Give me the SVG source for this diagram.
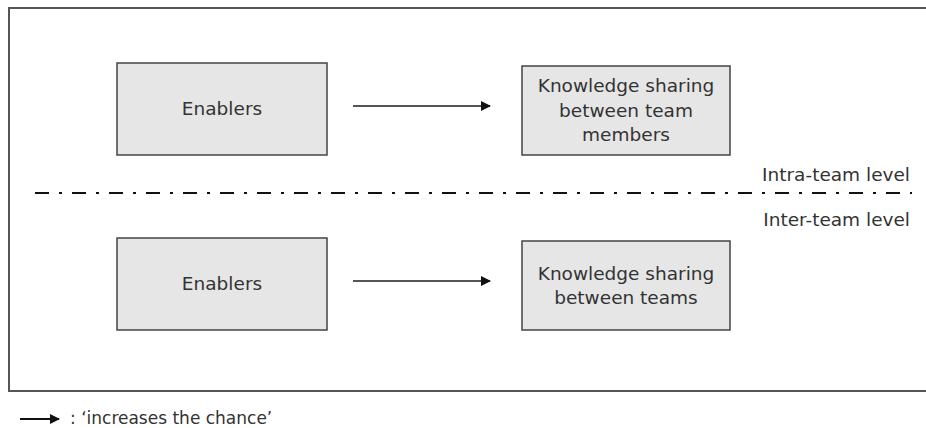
<svg xmlns="http://www.w3.org/2000/svg" width="926" height="428" viewBox="0 0 926 428">
  <defs>
    <marker id="head" viewBox="0 0 10 10" refX="9" refY="5" markerWidth="11" markerHeight="10" markerUnits="userSpaceOnUse" orient="auto">
      <path d="M0,0 L10,5 L0,10 z" fill="#111"/>
    </marker>
    <style>
      .frame { fill: none; stroke: #555; stroke-width: 2; }
      .box rect { fill: #e6e6e6; stroke: #444; stroke-width: 1.5; }
      text { font-family: "DejaVu Sans", Verdana, sans-serif; font-size: 18.5px; fill: #333; }
      .c { text-anchor: middle; }
      .r { text-anchor: end; }
      .arrow { stroke: #555; stroke-width: 2; fill: none; marker-end: url(#head); }
      .divider { stroke: #111; stroke-width: 2.2; fill: none; stroke-dasharray: 14 10 3 10; }
    </style>
  </defs>
  <rect width="926" height="428" fill="#fff"/>

  <!-- outer frame, open on the right -->
  <path class="frame" d="M930,8 H9 V391 H930"/>

  <!-- level divider and labels -->
  <line class="divider" x1="35" y1="193" x2="912" y2="193"/>
  <text class="r" x="910" y="181">Intra-team level</text>
  <text class="r" x="910" y="226">Inter-team level</text>

  <g id="enablers-intra" class="box">
    <rect x="117" y="63" width="210" height="92"/>
    <text class="c" x="222" y="115">Enablers</text>
  </g>
  <g id="sharing-members" class="box">
    <rect x="522" y="66" width="208" height="89"/>
    <text class="c" x="626" y="92">Knowledge sharing</text>
    <text class="c" x="626" y="117">between team</text>
    <text class="c" x="626" y="141">members</text>
  </g>
  <g id="enablers-inter" class="box">
    <rect x="117" y="238" width="210" height="92"/>
    <text class="c" x="222" y="290">Enablers</text>
  </g>
  <g id="sharing-teams" class="box">
    <rect x="522" y="241" width="208" height="89"/>
    <text class="c" x="626" y="280">Knowledge sharing</text>
    <text class="c" x="626" y="304">between teams</text>
  </g>

  <g id="connectors">
    <line class="arrow" x1="353" y1="106" x2="490" y2="106"/>
    <line class="arrow" x1="353" y1="281" x2="490" y2="281"/>
  </g>

  <!-- legend -->
  <g id="legend">
    <line class="arrow" x1="20" y1="419" x2="59" y2="419" style="stroke:#111"/>
    <text x="70" y="424" style="font-size:17px">: ‘increases the chance’</text>
  </g>
</svg>
